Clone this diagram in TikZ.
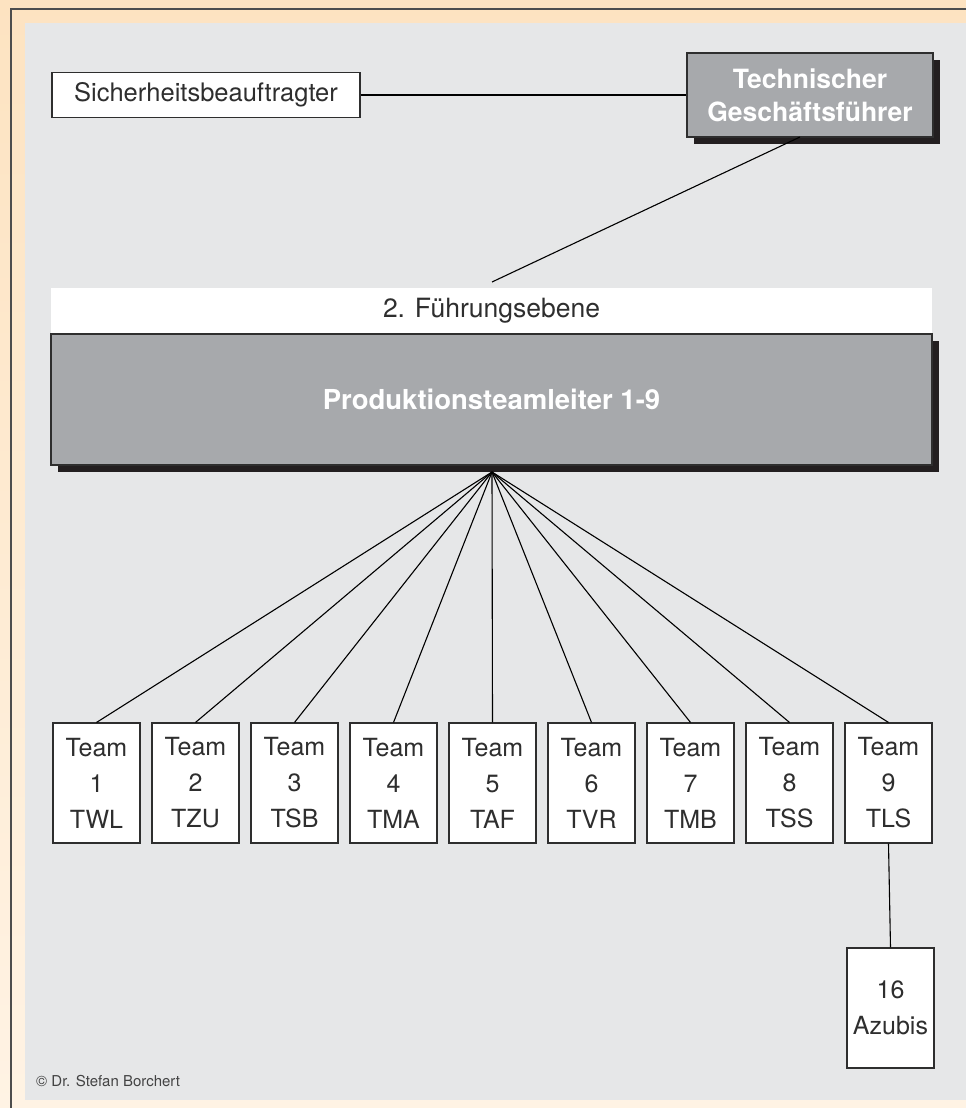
\documentclass[tikz,border=0pt]{standalone}
\usepackage{fontspec}
\setmainfont{TeX Gyre Heros}
\usetikzlibrary{positioning,shadows}

\definecolor{creamtop}{HTML}{FDE3C1}
\definecolor{creambot}{HTML}{FFF3E4}
\definecolor{panelgray}{HTML}{E6E7E8}
\definecolor{boxgray}{HTML}{A7A9AC}
\definecolor{shadowblack}{HTML}{231F20}
\definecolor{textdark}{HTML}{2E2E2E}

\tikzset{
  whitebox/.style={draw=textdark, line width=1.1pt, fill=white, text=textdark, inner sep=0pt},
  graybox/.style={draw=textdark, line width=1.1pt, fill=boxgray, text=white, inner sep=0pt,
    font=\fontsize{26.5}{33}\selectfont\bfseries, align=center,
    drop shadow={shadow xshift=7pt, shadow yshift=-7pt, opacity=1, fill=shadowblack}},
  teambox/.style={whitebox, minimum width=87pt, minimum height=120pt, align=center,
    font=\fontsize{25}{36}\selectfont},
  link/.style={draw=black, line width=1.1pt}
}

\begin{document}
\begin{tikzpicture}[x=1pt, y=-1pt]
\useasboundingbox (0,0) rectangle (966,1108);
% background and frame
\shade[top color=creamtop, bottom color=creambot] (0,0) rectangle (966,1108);
\fill[panelgray] (25,23) rectangle (966,1100);
\draw[textdark!85, line width=1.5pt] (11,1108) -- (11,9) -- (966,9);

% top level
\node[whitebox, minimum width=308pt, minimum height=45pt, font=\fontsize{25.5}{30}\selectfont]
  (sibe) at (206,95) {Sicherheitsbeauftragter};
\node[graybox, minimum width=246pt, minimum height=84pt] (tgf) at (810,95)
  {Technischer\\Geschäftsführer};
\draw[link] (sibe.east) -- (tgf.west);
\coordinate (ebenetop) at (492,282);
\draw[link] (800,137) -- (ebenetop);

% second level
\node[fill=white, minimum width=881pt, minimum height=47pt, inner sep=0pt, text=textdark,
  font=\fontsize{26.5}{30}\selectfont] (ebene) at (491.5,311) {2. Führungsebene};
\node[graybox, minimum width=881pt, minimum height=131pt, font=\fontsize{27.5}{33}\selectfont\bfseries]
  (ptl) at (491.5,399.5) {Produktionsteamleiter 1-9};
\coordinate (fan) at (492,472);

% teams
\foreach \n/\k in {1/TWL,2/TZU,3/TSB,4/TMA,5/TAF,6/TVR,7/TMB,8/TSS,9/TLS} {
  \node[teambox] (team\n) at ({96.5+99*(\n-1)},783) {Team\\\n\\\k};
  \draw[link] (fan) -- (team\n.north);
}

\node[teambox] (azubis) at (890.5,1008) {16\\Azubis};
\draw[link] (team9.south) -- (azubis.north);

\node[anchor=base west, inner sep=0pt, text=textdark!90, font=\fontsize{15}{18}\selectfont]
  (copy) at (36,1086) {© Dr. Stefan Borchert};
\end{tikzpicture}
\end{document}
